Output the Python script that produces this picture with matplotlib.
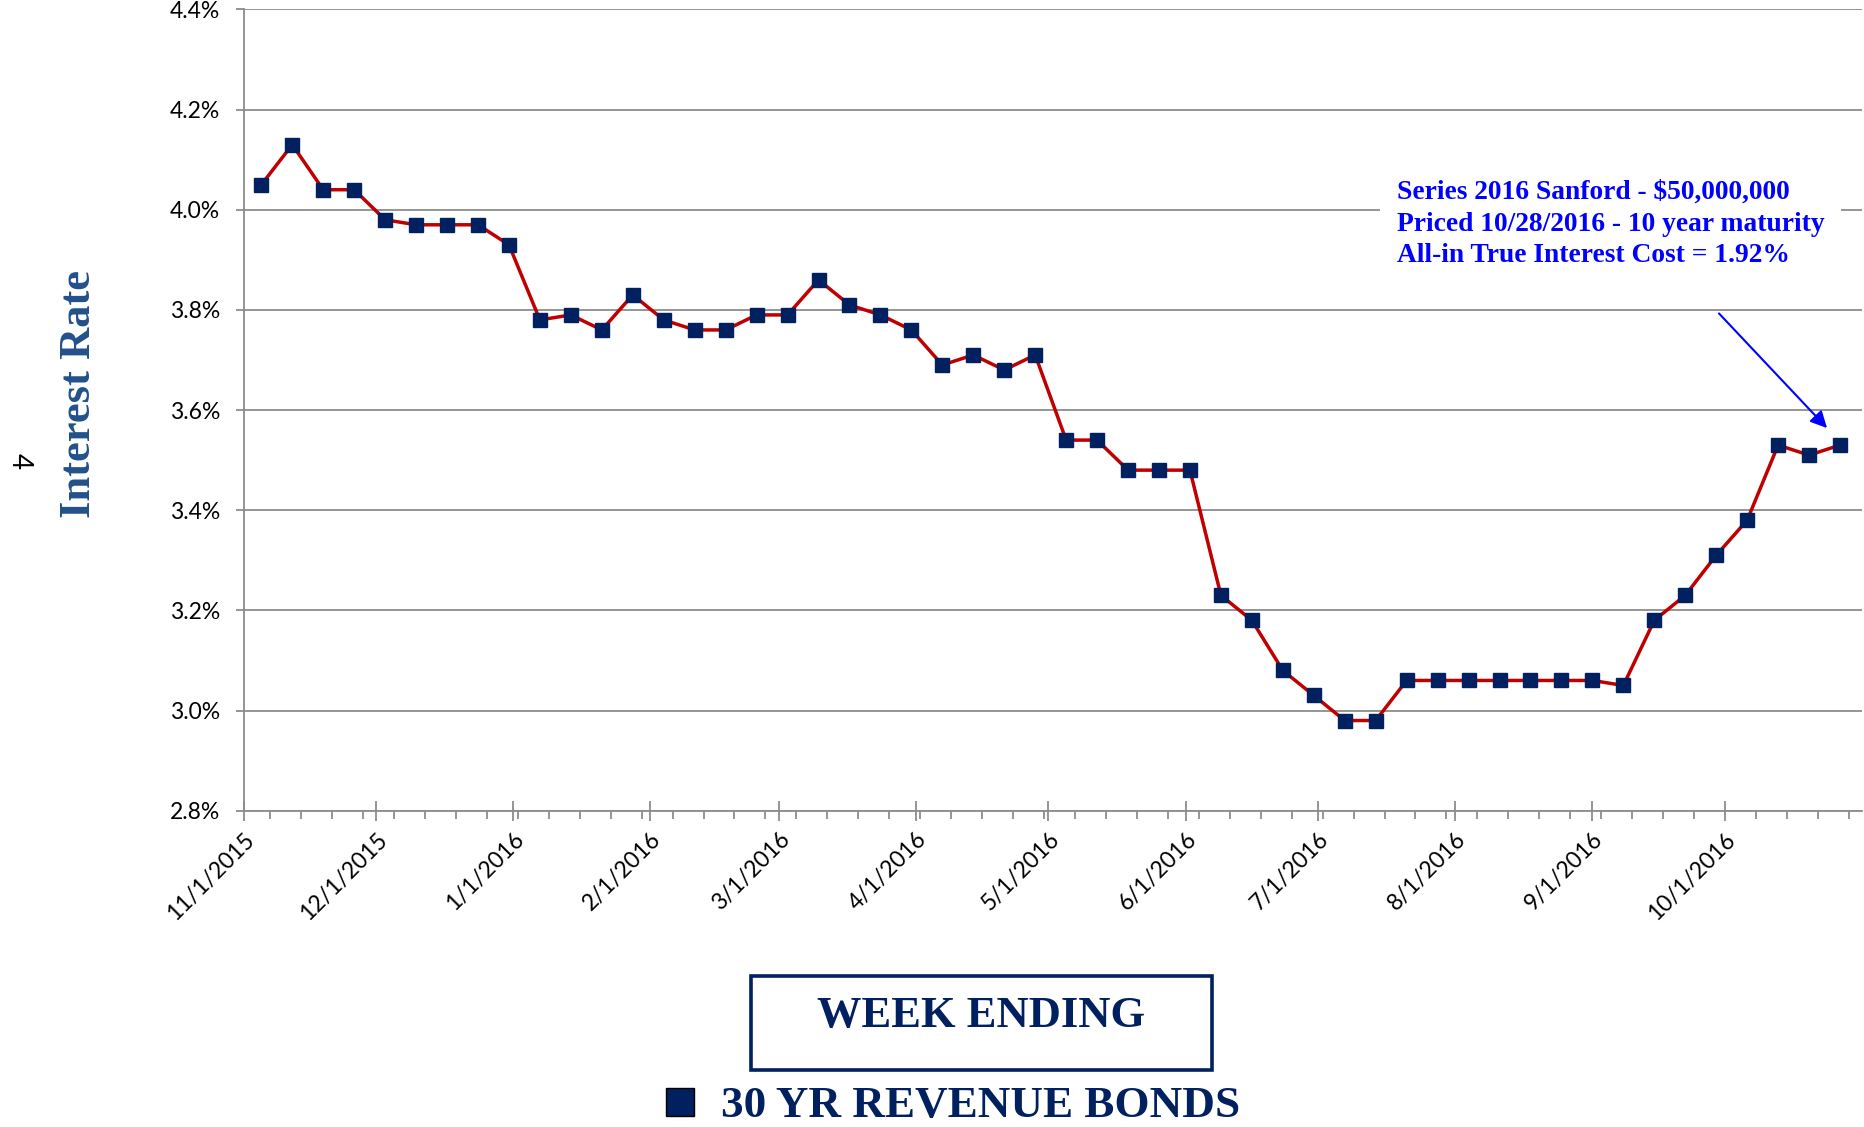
import matplotlib
matplotlib.use("Agg")
import matplotlib.pyplot as plt
import matplotlib.dates as mdates
from matplotlib.lines import Line2D
from matplotlib.patches import Rectangle
import pandas as pd

# Weekly 30 yr revenue bond index (week ending, Thursdays)
week_ending = [
    "2015-11-05", "2015-11-12", "2015-11-19", "2015-11-26", "2015-12-03", "2015-12-10",
    "2015-12-17", "2015-12-24", "2015-12-31", "2016-01-07", "2016-01-14", "2016-01-21",
    "2016-01-28", "2016-02-04", "2016-02-11", "2016-02-18", "2016-02-25", "2016-03-03",
    "2016-03-10", "2016-03-17", "2016-03-24", "2016-03-31", "2016-04-07", "2016-04-14",
    "2016-04-21", "2016-04-28", "2016-05-05", "2016-05-12", "2016-05-19", "2016-05-26",
    "2016-06-02", "2016-06-09", "2016-06-16", "2016-06-23", "2016-06-30", "2016-07-07",
    "2016-07-14", "2016-07-21", "2016-07-28", "2016-08-04", "2016-08-11", "2016-08-18",
    "2016-08-25", "2016-09-01", "2016-09-08", "2016-09-15", "2016-09-22", "2016-09-29",
    "2016-10-06", "2016-10-13", "2016-10-20", "2016-10-27",
]
rates = [
    4.05, 4.13, 4.04, 4.04, 3.98, 3.97, 3.97, 3.97, 3.93, 3.78, 3.79, 3.76,
    3.83, 3.78, 3.76, 3.76, 3.79, 3.79, 3.86, 3.81, 3.79, 3.76, 3.69, 3.71,
    3.68, 3.71, 3.54, 3.54, 3.48, 3.48, 3.48, 3.23, 3.18, 3.08, 3.03, 2.98,
    2.98, 3.06, 3.06, 3.06, 3.06, 3.06, 3.06, 3.06, 3.05, 3.18, 3.23, 3.31,
    3.38, 3.53, 3.51, 3.53,
]
y_ticks = [2.8, 3.0, 3.2, 3.4, 3.6, 3.8, 4.0, 4.2, 4.4]
series_name = "30 YR REVENUE BONDS"
note_lines = [
    "Series 2016 Sanford - $50,000,000",
    "Priced 10/28/2016 - 10 year maturity",
    "All-in True Interest Cost = 1.92%",
]

NAVY = "#002060"
RED = "#C00000"
GRID = "#8c8c8c"
SERIF = "Liberation Serif"
SANS = "Lato"

dates = pd.to_datetime(week_ending)

fig = plt.figure(figsize=(18.64, 11.27), dpi=100)
ax = fig.add_axes([0.1307, 0.2807, 0.8683, 0.7109])

ax.plot(dates, rates, color=RED, linewidth=2.5, marker="s", markersize=9.5,
        markerfacecolor=NAVY, markeredgecolor=NAVY, zorder=3)

ax.set_ylim(2.8, 4.4)
ax.set_yticks(y_ticks)
ax.set_yticklabels(["{:.1f}%".format(v) for v in y_ticks], fontsize=16.5, family=SANS)
ax.set_xlim(pd.Timestamp("2015-11-01"), pd.Timestamp("2016-11-01"))

majors = pd.date_range("2015-11-01", "2016-10-01", freq="MS")
ax.set_xticks(majors)
ax.set_xticklabels([f"{d.month}/{d.day}/{d.year}" for d in majors], rotation=45,
                   ha="right", rotation_mode="anchor", fontsize=16.5, family=SANS)
ax.xaxis.set_minor_locator(mdates.DayLocator(interval=7))

ax.grid(axis="y", color=GRID, linewidth=1.3, zorder=0)
ax.set_axisbelow(True)
for s in ["top", "right"]:
    ax.spines[s].set_visible(False)
for s in ["left", "bottom"]:
    ax.spines[s].set_color(GRID)
    ax.spines[s].set_linewidth(1.3)
ax.tick_params(axis="y", length=6, color=GRID, width=1.3, pad=11)
ax.tick_params(axis="x", which="major", direction="inout", length=14, color=GRID, width=1.3, pad=6)
ax.tick_params(axis="x", which="minor", direction="out", length=6, color=GRID, width=1.3)

# annotation for the pricing
fig.text(0.7495, 0.8405, "\n".join(note_lines), ha="left", va="top", fontsize=19.8,
         family=SERIF, fontweight="bold", color="#0000FF", linespacing=1.36,
         bbox=dict(facecolor="white", edgecolor="none", pad=12), zorder=5)
x0 = mdates.date2num(pd.Timestamp("2016-09-29")) + 0.2
x1 = mdates.date2num(pd.Timestamp("2016-10-24")) + 0.5
ax.annotate("", xy=(x1, 3.56), xytext=(x0, 3.797),
            arrowprops=dict(arrowstyle="-|>", color="#0000FF", lw=1.5, mutation_scale=25))

fig.text(0.0425, 0.6508, "Interest Rate", rotation=90, ha="center", va="center",
         fontsize=32, family=SERIF, fontweight="bold", color="#22508a")
fig.text(0.0107, 0.591, "4", rotation=-90, ha="center", va="center", fontsize=20, family=SANS)

# x-axis title box
fig.patches.append(Rectangle((0.4029, 0.0506), 0.2473, 0.0834, transform=fig.transFigure,
                             facecolor="white", edgecolor=NAVY, linewidth=2.6))
fig.text(0.5263, 0.0985, "WEEK ENDING", ha="center", va="center", fontsize=32,
         family=SERIF, fontweight="bold", color=NAVY)

handle = Line2D([], [], linestyle="none", marker="s", markersize=20,
                markerfacecolor=NAVY, markeredgecolor="black")
fig.legend([handle], [series_name], loc="center", bbox_to_anchor=(0.5095, 0.0185),
           frameon=False, handlelength=0.9, handletextpad=0.45, borderpad=0, labelcolor=NAVY,
           prop=dict(family=SERIF, weight="bold", size=32.5))

fig.savefig("out.png", dpi=100)
